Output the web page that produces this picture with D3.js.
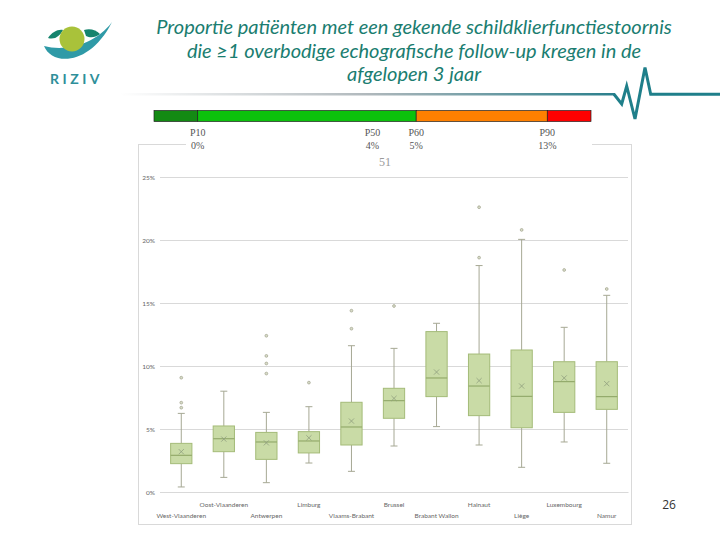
<!DOCTYPE html>
<html><head><meta charset="utf-8">
<script src="https://cdn.jsdelivr.net/npm/d3@7"></script>
<style>body{margin:0;background:#fff}svg{display:block}</style>
</head><body>
<svg id="c" width="720" height="540"></svg>
<script>
// ---- data ----
const titleLines = ["Proportie patiënten met een gekende schildklierfunctiestoornis",
  "die ≥1 overbodige echografische follow-up kregen in de", "afgelopen 3 jaar"];
const provinces = ["West-Vlaanderen","Oost-Vlaanderen","Antwerpen","Limburg","Vlaams-Brabant","Brussel",
  "Brabant Wallon","Hainaut","Liège","Luxembourg","Namur"];
const whiskerLow  = [0.40, 1.16, 0.74, 2.30, 1.64, 3.65, 5.19, 3.73, 1.96, 3.97, 2.28];
const q1          = [2.25, 3.20, 2.59, 3.10, 3.73, 5.85, 7.57, 6.06, 5.10, 6.32, 6.56];
const medians     = [2.91, 4.23, 3.97, 4.05, 5.16, 7.25, 9.05, 8.41, 7.59, 8.76, 7.57];
const q3          = [3.86, 5.24, 4.73, 4.79, 7.12, 8.23, 12.73, 10.95, 11.27, 10.34, 10.34];
const whiskerHigh = [6.24, 8.00, 6.32, 6.77, 11.61, 11.40, 13.39, 17.97, 20.05, 13.07, 15.61];
const means       = [3.20, 4.20, 3.90, 4.30, 5.63, 7.43, 9.52, 8.84, 8.41, 9.05, 8.60];
const outliers    = [[9.07, 7.09, 6.69], [], [12.4, 10.8, 10.2, 9.4], [8.68], [14.39, 12.96], [14.76],
  [], [22.6, 18.6], [20.8], [17.62], [16.11]];
const yTicks = [0, 5, 10, 15, 20, 25];
const pctNames = ["P10","P50","P60","P90"];
const pctRanks = [10, 50, 60, 90];
const pctValues = ["0%","4%","5%","13%"];
const bandStarts = [0, 10, 60, 90];
const bandEnds   = [10, 60, 90, 100];
const bandColors = ["#138a13", "#0cc20c", "#ff8000", "#ff0000"];
const nProviders = "51";
const pageNumber = "26";

const svg = d3.select("#c");

// ---- header: logo ----
const logo = svg.append("g");
logo.append("path").attr("d","M44,46 C52,66 90,66 112,22 C96,44 66,52 44,46 Z").attr("fill","#2f9aa7");
logo.append("path").attr("d","M48,38 C52,32 58,29 63,30 C60,36 55,40 48,38 Z").attr("fill","#15846d");
logo.append("path").attr("d","M84,30 C90,28 96,30 100,34 C95,38 90,38 86,36 Z").attr("fill","#15846d");
logo.append("circle").attr("cx",72).attr("cy",39).attr("r",12.5).attr("fill","#a9c23a");
logo.append("text").attr("x",50).attr("y",84).attr("font-family","Lato, 'Open Sans', sans-serif")
  .attr("font-size",14).attr("font-weight",700).attr("letter-spacing",3.5).attr("fill","#2f8f9a").text("RIZIV");

// ---- title ----
svg.append("g").selectAll("text").data(titleLines).join("text")
  .attr("x",414).attr("y",(d,i)=>34+i*23.5).attr("text-anchor","middle")
  .attr("font-family","Lato, 'Open Sans', sans-serif").attr("font-style","italic")
  .attr("font-size",20).attr("fill","#1a7d70").text(d=>d);

// gradient rule + heartbeat
const defs = svg.append("defs");
const lg = defs.append("linearGradient").attr("id","rule").attr("x1","0").attr("x2","1");
lg.append("stop").attr("offset","0").attr("stop-color","#ffffff");
lg.append("stop").attr("offset","0.5").attr("stop-color","#b0b8bc");
lg.append("stop").attr("offset","1").attr("stop-color","#2a7f8c");
svg.append("rect").attr("x",120).attr("y",93).attr("width",495).attr("height",2.5).attr("fill","url(#rule)");
svg.append("path").attr("d","M614,94.3 L621.7,104 L626.7,86 L635,119 L645,67.5 L650.7,94.3 L720,94.3")
  .attr("fill","none").attr("stroke","#1f7f8a").attr("stroke-width",3).attr("stroke-linejoin","miter");

// ---- chart frame ----
const frame = svg.append("g").attr("stroke","#d9d9d9").attr("fill","none");
frame.append("rect").attr("x",138.5).attr("y",144.5).attr("width",493).attr("height",380);
svg.append("rect").attr("x",186).attr("y",126).attr("width",406).attr("height",24).attr("fill","#fff");

// ---- percentile bar ----
const px = d3.scaleLinear().domain([0,100]).range([154,591]);
svg.append("g").selectAll("rect").data(bandStarts).join("rect")
  .attr("x",(d)=>px(d)).attr("y",110.5).attr("width",(d,i)=>px(bandEnds[i])-px(d)).attr("height",11)
  .attr("fill",(d,i)=>bandColors[i]).attr("stroke","#222").attr("stroke-width",0.7);
const pl = svg.append("g").attr("font-family","'Liberation Serif', serif").attr("font-size",10).attr("fill","#555")
  .attr("text-anchor","middle");
pl.selectAll("text.n").data(pctRanks).join("text").attr("class","n")
  .attr("x",d=>px(d)).attr("y",136).text((d,i)=>pctNames[i]);
pl.selectAll("text.v").data(pctRanks).join("text").attr("class","v")
  .attr("x",d=>px(d)).attr("y",148.5).text((d,i)=>pctValues[i]);
svg.append("text").attr("x",385).attr("y",166).attr("text-anchor","middle")
  .attr("font-family","'Liberation Serif', serif").attr("font-size",12).attr("fill","#9a9a9a").text(nProviders);

// ---- box plot ----
const x = d3.scaleBand().domain(provinces).range([160,628]).padding(0);
const y = d3.scaleLinear().domain([0,25]).range([492,177]);

const yAxis = svg.append("g").attr("transform","translate(160,0)")
  .call(d3.axisLeft(y).tickValues(yTicks).tickFormat(d=>d+"%").tickSize(-468));
yAxis.select(".domain").remove();
yAxis.selectAll(".tick line").attr("stroke","#d9d9d9");
yAxis.selectAll(".tick text").attr("x",-5).attr("font-family","Lato, 'Open Sans', sans-serif")
  .attr("font-size",6.5).attr("fill","#666");

const xAxis = svg.append("g").attr("transform","translate(0,492)")
  .call(d3.axisBottom(x).tickSize(0));
xAxis.select(".domain").attr("stroke","#d9d9d9");
xAxis.selectAll(".tick text").attr("y",(d,i)=>i%2===0?25.5:14.5).attr("dy",0)
  .attr("font-family","Lato, 'Open Sans', sans-serif").attr("font-size",6.5).attr("fill","#666");

const bw = x.bandwidth()*0.5, cap = 7;
const g = svg.append("g").selectAll("g").data(provinces).join("g")
  .attr("transform",d=>`translate(${x(d)+x.bandwidth()/2},0)`);
const wc = "#a6a894";
g.append("line").attr("y1",(d,i)=>y(whiskerHigh[i])).attr("y2",(d,i)=>y(q3[i])).attr("stroke",wc);
g.append("line").attr("y1",(d,i)=>y(q1[i])).attr("y2",(d,i)=>y(whiskerLow[i])).attr("stroke",wc);
g.append("line").attr("x1",-cap/2).attr("x2",cap/2).attr("y1",(d,i)=>y(whiskerHigh[i])).attr("y2",(d,i)=>y(whiskerHigh[i])).attr("stroke",wc);
g.append("line").attr("x1",-cap/2).attr("x2",cap/2).attr("y1",(d,i)=>y(whiskerLow[i])).attr("y2",(d,i)=>y(whiskerLow[i])).attr("stroke",wc);
g.append("rect").attr("x",-bw/2).attr("width",bw).attr("y",(d,i)=>y(q3[i])).attr("height",(d,i)=>y(q1[i])-y(q3[i]))
  .attr("fill","#c9dba6").attr("stroke","#a4bb78").attr("stroke-width",1);
g.append("line").attr("x1",-bw/2).attr("x2",bw/2).attr("y1",(d,i)=>y(medians[i])).attr("y2",(d,i)=>y(medians[i]))
  .attr("stroke","#94ab6c").attr("stroke-width",1.2);
g.append("path").attr("d",(d,i)=>{const m=y(means[i]),s=2.6;return `M${-s},${m-s}L${s},${m+s}M${-s},${m+s}L${s},${m-s}`;})
  .attr("stroke","#8f9e7d").attr("stroke-width",0.8).attr("fill","none");
g.each(function(d,i){
  d3.select(this).selectAll("circle").data(outliers[i]).join("circle")
    .attr("cx",0).attr("cy",v=>y(v)).attr("r",1.4).attr("fill","#d8dcc8").attr("stroke","#a0a28c").attr("stroke-width",0.7);
});

// page number
svg.append("text").attr("x",669).attr("y",509).attr("text-anchor","middle")
  .attr("font-family","'Open Sans', sans-serif").attr("font-size",12).attr("fill","#333").text(pageNumber);
</script>
</body></html>
